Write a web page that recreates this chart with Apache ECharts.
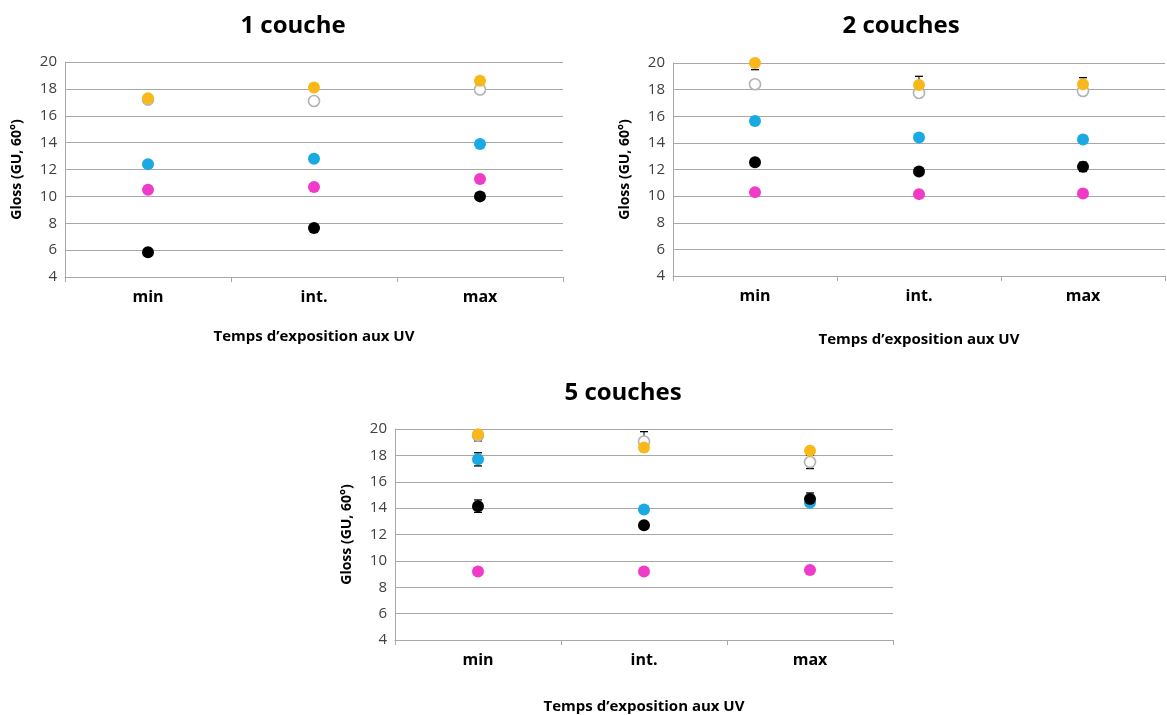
<!DOCTYPE html>
<html>
<head>
<meta charset="utf-8">
<script src="https://cdn.jsdelivr.net/npm/echarts@6/dist/echarts.min.js"></script>
<style>html,body{margin:0;padding:0;background:#fff}#c{width:1167px;height:715px}</style>
</head>
<body>
<div id="c"></div>
<script>
const categories = ['min', 'int.', 'max'];
const titles = ['1 couche', '2 couches', '5 couches'];
const yTicks = { min: 4, max: 20, interval: 2 };

// 1 couche
const c1White  = [17.2, 17.1, 17.95];
const c1Pink   = [10.5, 10.7, 11.3];
const c1Blue   = [12.4, 12.8, 13.9];
const c1Black  = [5.85, 7.65, 10.0];
const c1Orange = [17.3, 18.1, 18.6];
const c1WhiteErr  = [0.1, 0.1, 0.1];
const c1PinkErr   = [0.1, 0.1, 0.1];
const c1BlueErr   = [0.1, 0.1, 0.1];
const c1BlackErr  = [0.1, 0.1, 0.1];
const c1OrangeErr = [0.1, 0.1, 0.1];

// 2 couches
const c2White  = [18.4, 17.75, 17.9];
const c2Pink   = [10.3, 10.15, 10.2];
const c2Blue   = [15.65, 14.4, 14.25];
const c2Black  = [12.55, 11.85, 12.2];
const c2Orange = [20.0, 18.35, 18.4];
const c2WhiteErr  = [0.1, 0.1, 0.1];
const c2PinkErr   = [0.1, 0.1, 0.1];
const c2BlueErr   = [0.1, 0.1, 0.1];
const c2BlackErr  = [0.15, 0.2, 0.35];
const c2OrangeErr = [0.5, 0.65, 0.5];

// 5 couches
const c3White  = [19.5, 19.05, 17.5];
const c3Pink   = [9.2, 9.2, 9.3];
const c3Blue   = [17.7, 13.9, 14.4];
const c3Black  = [14.15, 12.7, 14.7];
const c3Orange = [19.6, 18.6, 18.35];
const c3WhiteErr  = [0.3, 0.75, 0.5];
const c3PinkErr   = [0.1, 0.1, 0.1];
const c3BlueErr   = [0.5, 0.2, 0.2];
const c3BlackErr  = [0.47, 0.2, 0.45];
const c3OrangeErr = [0.5, 0.2, 0.2];

const COL = { white: '#ffffff', pink: '#f03bc8', blue: '#19aae3', black: '#000000', orange: '#f9b81a' };

const charts = [
  { white: c1White, pink: c1Pink, blue: c1Blue, black: c1Black, orange: c1Orange,
    err: { white: c1WhiteErr, pink: c1PinkErr, blue: c1BlueErr, black: c1BlackErr, orange: c1OrangeErr } },
  { white: c2White, pink: c2Pink, blue: c2Blue, black: c2Black, orange: c2Orange,
    err: { white: c2WhiteErr, pink: c2PinkErr, blue: c2BlueErr, black: c2BlackErr, orange: c2OrangeErr } },
  { white: c3White, pink: c3Pink, blue: c3Blue, black: c3Black, orange: c3Orange,
    err: { white: c3WhiteErr, pink: c3PinkErr, blue: c3BlueErr, black: c3BlackErr, orange: c3OrangeErr } }
];

const FONT = '"Open Sans", "Liberation Sans", sans-serif';
const grids = [
  { left: 65, top: 62, width: 498, height: 215 },
  { left: 673, top: 63, width: 492, height: 213 },
  { left: 395, top: 429, width: 498, height: 213 }
];
const titlePos = [ { x: 288, y: 9 }, { x: 896, y: 9 }, { x: 618, y: 376 } ];
const xNameGap = [52, 56, 59];

const gridLine = '#a8a8a8';
const xAxes = grids.map((g, i) => ({
  type: 'category', gridIndex: i, data: categories, boundaryGap: true,
  axisLine: { lineStyle: { color: gridLine } },
  axisTick: { show: true, length: 5, lineStyle: { color: gridLine } },
  axisLabel: { color: '#000', fontFamily: FONT, fontWeight: 'bold', fontSize: 16, margin: 12 },
  name: 'Temps d\u2019exposition aux UV', nameLocation: 'middle', nameGap: xNameGap[i],
  nameTextStyle: { color: '#000', fontFamily: FONT, fontWeight: 'bold', fontSize: 15 }
}));
const yAxes = grids.map((g, i) => ({
  type: 'value', gridIndex: i, min: yTicks.min, max: yTicks.max, interval: yTicks.interval,
  axisLine: { show: true, lineStyle: { color: gridLine } },
  axisTick: { show: false },
  splitLine: { show: true, lineStyle: { color: gridLine, width: 1 } },
  axisLabel: { color: '#404040', fontFamily: FONT, fontSize: 15, margin: 8 },
  name: 'Gloss (GU, 60\u00b0)', nameLocation: 'middle', nameGap: 41, nameRotate: 90,
  nameTextStyle: { color: '#000', fontFamily: FONT, fontWeight: 'bold', fontSize: 14 }
}));

function errSeries(gi, vals, errs) {
  return {
    type: 'custom', xAxisIndex: gi, yAxisIndex: gi, z: 1, silent: true, clip: true,
    data: vals.map((v, i) => [i, v, errs[i]]),
    renderItem: (params, api) => {
      const x = api.value(0), y = api.value(1), e = api.value(2);
      const hi = api.coord([x, y + e]), lo = api.coord([x, y - e]);
      const w = 4;
      const st = { stroke: '#000', lineWidth: 1 };
      return { type: 'group', children: [
        { type: 'line', shape: { x1: hi[0], y1: hi[1], x2: lo[0], y2: lo[1] }, style: st },
        { type: 'line', shape: { x1: hi[0] - w, y1: hi[1], x2: hi[0] + w, y2: hi[1] }, style: { stroke: '#000', lineWidth: 1.3 } },
        { type: 'line', shape: { x1: lo[0] - w, y1: lo[1], x2: lo[0] + w, y2: lo[1] }, style: { stroke: '#000', lineWidth: 1.3 } }
      ] };
    }
  };
}

const order = ['white', 'pink', 'blue', 'black', 'orange'];
const series = [];
charts.forEach((c, gi) => {
  order.forEach(k => series.push(errSeries(gi, c[k], c.err[k])));
  order.forEach((k, oi) => {
    series.push({
      type: 'scatter', xAxisIndex: gi, yAxisIndex: gi, z: 2 + oi, silent: true,
      symbol: 'circle', symbolSize: k === 'white' ? 11 : 12,
      data: c[k],
      itemStyle: k === 'white'
        ? { color: '#fff', borderColor: '#b3b3b3', borderWidth: 1.6, opacity: 1 }
        : { color: COL[k], opacity: 1 }
    });
  });
});

const chart = echarts.init(document.getElementById('c'), null, { renderer: 'canvas' });
chart.setOption({
  animation: false,
  backgroundColor: '#fff',
  title: titles.map((t, i) => ({
    text: t, left: titlePos[i].x, top: titlePos[i].y, textAlign: 'center',
    textStyle: { color: '#000', fontFamily: FONT, fontWeight: 'bold', fontSize: 24 }
  })),
  grid: grids,
  xAxis: xAxes,
  yAxis: yAxes,
  series: series
});
</script>
</body>
</html>
